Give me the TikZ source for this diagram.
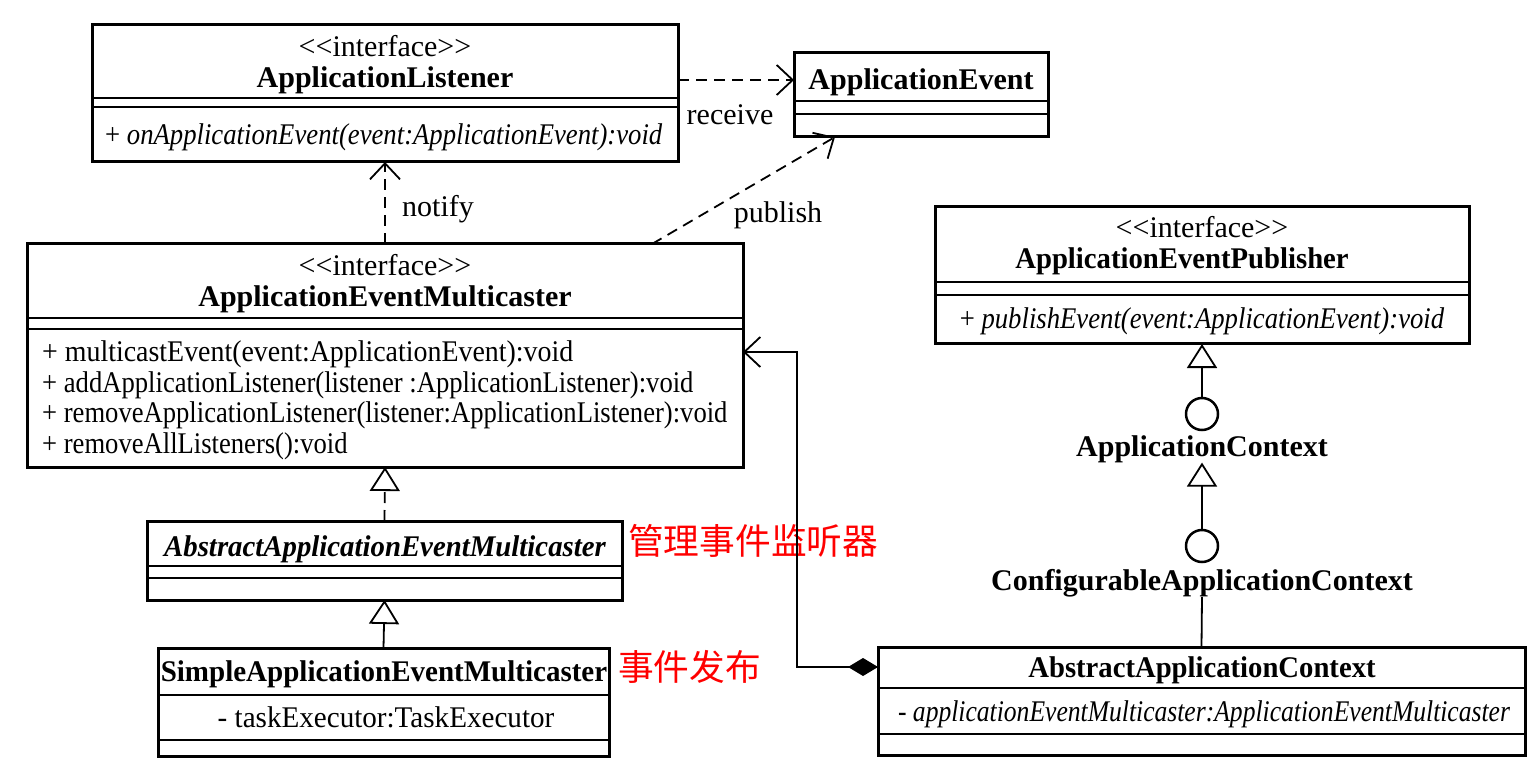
\documentclass[tikz,border=0pt]{standalone}
\usepackage{fontspec}
\setmainfont{Liberation Serif}
\newfontfamily\cjk{Noto Sans CJK SC}
\usetikzlibrary{arrows.meta}
\newcommand{\sqz}[2]{\scalebox{#1}[1]{#2}}
\begin{document}
\begin{tikzpicture}[x=1pt,y=-1pt,
  box/.style={draw, line width=3pt, anchor=north west, inner sep=0pt, outer sep=0pt},
  sep/.style={line width=1.6pt},
  txt/.style={anchor=base, inner sep=0pt, font=\fontsize{30}{36}\selectfont},
  bname/.style={anchor=base, inner sep=0pt, font=\fontsize{30}{36}\selectfont\bfseries},
  ltxt/.style={anchor=base west, inner sep=0pt, font=\fontsize{30}{36}\selectfont},
  conn/.style={line width=1.8pt},
  dsh/.style={conn, dash pattern=on 11pt off 7pt},
  openarr/.style={-{Straight Barb[length=16pt,width=30pt]}},
  realarr/.style={-{Triangle[open,fill=white,length=24pt,width=30pt]}},
  lolli/.style={circle, draw, line width=2.5pt, minimum size=32pt, inner sep=0pt},
  note/.style={anchor=west, inner sep=0pt, text=red, font=\cjk\fontsize{35.7}{42}\selectfont},
]
\useasboundingbox (0,0) rectangle (1537,767);

% ApplicationListener
\node[box, minimum width=586pt, minimum height=137pt] (al) at (92,25) {};
\draw[sep] (92,98) -- (678,98);
\draw[sep] (92,107) -- (678,107);
\node[txt] (al-s) at (385,57) {<\kern0pt<interface>\kern0pt>};
\node[bname] (al-n) at (385,88) {ApplicationListener};
\node[ltxt] (al-m) at (105,145) {\sqz{0.89}{+ \textit{onApplicationEvent(event:ApplicationEvent):void}}};

% ApplicationEvent
\node[box, minimum width=254pt, minimum height=84pt] (ae) at (794,53) {};
\draw[sep] (794,101) -- (1048,101);
\draw[sep] (794,114) -- (1048,114);
\node[bname] (ae-n) at (921,90) {ApplicationEvent};

% ApplicationEventMulticaster
\node[box, minimum width=716pt, minimum height=223pt] (aem) at (27,244) {};
\draw[sep] (27,318) -- (743,318);
\draw[sep] (27,329) -- (743,329);
\node[txt] (aem-s) at (385,276) {<\kern0pt<interface>\kern0pt>};
\node[bname] (aem-n) at (385,307) {ApplicationEventMulticaster};
\node[ltxt] (aem-m1) at (42,361) {\sqz{0.93}{+ multicastEvent(event:ApplicationEvent):void}};
\node[ltxt] (aem-m2) at (42,392) {\sqz{0.888}{+ addApplicationListener(listener :ApplicationListener):void}};
\node[ltxt] (aem-m3) at (42,422) {\sqz{0.887}{+ removeApplicationListener(listener:ApplicationListener):void}};
\node[ltxt] (aem-m4) at (42,453) {\sqz{0.887}{+ removeAllListeners():void}};

% AbstractApplicationEventMulticaster
\node[box, minimum width=475pt, minimum height=79pt] (aaem) at (147,521) {};
\draw[sep] (147,566) -- (622,566);
\draw[sep] (147,578) -- (622,578);
\node[bname, font=\fontsize{30}{36}\selectfont\bfseries\itshape] (aaem-n) at (385,556) {\sqz{0.96}{AbstractApplicationEventMulticaster}};

% SimpleApplicationEventMulticaster
\node[box, minimum width=451pt, minimum height=108pt] (saem) at (158,648) {};
\draw[sep] (158,695) -- (609,695);
\draw[sep] (158,740) -- (609,740);
\node[bname] (saem-n) at (384,681) {\sqz{0.967}{SimpleApplicationEventMulticaster}};
\node[txt] (saem-a) at (386,727) {\sqz{0.97}{- taskExecutor:TaskExecutor}};

% red notes
\node[note] (n1) at (628,541) {管理事件监听器};
\node[note] (n2) at (618,667) {事件发布};

% ApplicationEventPublisher
\node[box, minimum width=534pt, minimum height=137pt] (aep) at (935,207) {};
\draw[sep] (935,282) -- (1469,282);
\draw[sep] (935,295) -- (1469,295);
\node[txt] (aep-s) at (1202,238) {<\kern0pt<interface>\kern0pt>};
\node[bname] (aep-n) at (1182,269) {\sqz{0.957}{ApplicationEventPublisher}};
\node[txt] (aep-m) at (1202,329) {\sqz{0.89}{+ \textit{publishEvent(event:ApplicationEvent):void}}};

% lollipops
\node[lolli] (c1) at (1202,414) {};
\node[bname] (actx) at (1202,456) {ApplicationContext};
\node[lolli] (c2) at (1202,546) {};
\node[bname] (cactx) at (1202,590) {ConfigurableApplicationContext};

% AbstractApplicationContext
\node[box, minimum width=647pt, minimum height=108pt] (aac) at (878,647) {};
\draw[sep] (878,688) -- (1525,688);
\draw[sep] (878,734) -- (1525,734);
\node[bname] (aac-n) at (1202,677) {\sqz{0.956}{AbstractApplicationContext}};
\node[txt] (aac-a) at (1204,721) {\sqz{0.853}{- \textit{applicationEventMulticaster:ApplicationEventMulticaster}}};

% connectors
\coordinate (rcv) at (0,80);
\draw[dsh, openarr] (al.east |- rcv) -- (ae.west |- rcv);
\node[txt] (rl) at (730,125) {receive};

\draw[dsh, openarr] (aem.north) -- (al.south);
\node[txt] (nl) at (438,217) {notify};

\draw[dsh, openarr] ([xshift=267pt]aem.north) -- ([xshift=-86pt]ae.south);
\node[txt] (pl) at (778,223) {publish};

\draw[dsh, realarr] (aaem.north) -- (aem.south);
\draw[conn, realarr] (saem.north) -- (aaem.south);

\draw[conn, realarr] (c1.north) -- (aep.south);
\draw[conn, realarr] (c2.north) -- (actx.south);
\draw[conn] (cactx.south) -- (aac.north);

\coordinate (cm) at (0,667);
\coordinate (cp) at (797,352);
\draw[conn, {Diamond[length=30pt,width=18pt]}-{Straight Barb[length=16pt,width=30pt]}] (aac.west |- cm) -| (cp) -- (cp -| aem.east);
\end{tikzpicture}
\end{document}
